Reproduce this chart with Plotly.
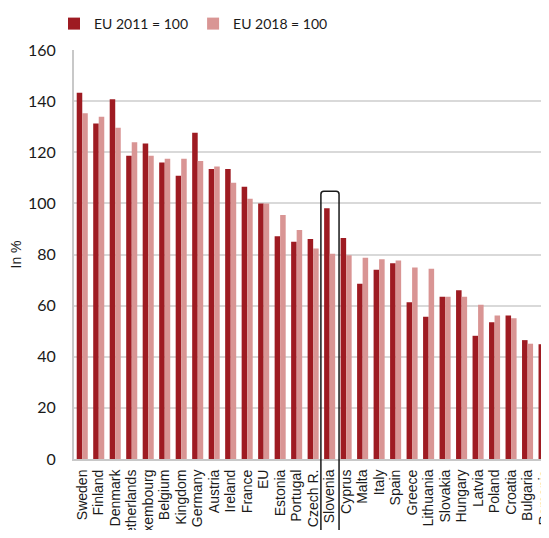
import plotly.graph_objects as go

# Price level index per country, two base years
countries = [
    "Sweden", "Finland", "Denmark", "Netherlands", "Luxembourg", "Belgium",
    "U. Kingdom", "Germany", "Austria", "Ireland", "France", "EU", "Estonia",
    "Portugal", "Czech R.", "Slovenia", "Cyprus", "Malta", "Italy", "Spain",
    "Greece", "Lithuania", "Slovakia", "Hungary", "Latvia", "Poland",
    "Croatia", "Bulgaria", "Romania",
]
eu_2011 = [
    143.3, 131.2, 140.7, 118.6, 123.4, 116.0, 110.8, 127.6, 113.4, 113.4,
    106.5, 100.0, 87.1, 85.0, 86.1, 98.1, 86.5, 68.6, 74.0, 76.6,
    61.3, 55.6, 63.5, 66.0, 48.2, 53.5, 56.1, 46.5, 44.9,
]
eu_2018 = [
    135.3, 133.9, 129.6, 123.9, 118.6, 117.5, 117.5, 116.6, 114.4, 108.1,
    101.8, 100.0, 95.5, 89.6, 82.3, 80.3, 79.7, 78.7, 78.1, 77.7,
    74.9, 74.4, 63.5, 63.5, 60.3, 56.1, 55.1, 45.1, 31.3,
]
y_ticks = [0, 20, 40, 60, 80, 100, 120, 140, 160]
highlight = "Slovenia"

DARK = "#9e1b22"
LIGHT = "#d99594"
GRID = "#d9d9d9"

# page body has an 8px margin, so the figure is a bit smaller than the window
W, H = 541, 522
M_L, M_R, M_T, M_B = 66, 0, 42, 71

fig = go.Figure()

fig.add_trace(go.Bar(
    x=countries, y=eu_2011, name="EU 2011 = 100",
    marker=dict(color=DARK, line=dict(width=0)),
))
fig.add_trace(go.Bar(
    x=countries, y=eu_2018, name="EU 2018 = 100",
    marker=dict(color=LIGHT, line=dict(width=0)),
))

# highlight box around one country (paper coords so it runs through labels)
x_min, x_max = -0.5, 28.3
plot_w = W - M_L - M_R
plot_h = H - M_T - M_B
idx = countries.index(highlight)
x0 = (idx - 0.53 + 0.5) / (x_max - x_min)
x1 = (idx + 0.57 + 0.5) / (x_max - x_min)
y_top = 104.7 / 160
y_bot = -0.4
rx = 3 / plot_w
ry = 3 / plot_h
path = (
    f"M{x0},{y_bot} L{x0},{y_top - ry} Q{x0},{y_top} {x0 + rx},{y_top} "
    f"L{x1 - rx},{y_top} Q{x1},{y_top} {x1},{y_top - ry} L{x1},{y_bot}"
)
fig.add_shape(
    type="path", path=path, xref="paper", yref="paper",
    line=dict(color="#1a1a1a", width=1.5), layer="above",
)

fig.update_layout(
    width=W,
    height=H,
    template="none",
    barmode="group",
    bargap=0.33,
    bargroupgap=0,
    plot_bgcolor="white",
    paper_bgcolor="white",
    margin=dict(l=M_L, r=M_R, t=M_T, b=M_B, autoexpand=False),
    font=dict(family="Lato", size=15, color="#1a1a1a"),
    showlegend=True,
    legend=dict(
        orientation="h",
        x=46 / W, xref="container", xanchor="left",
        y=1, yref="container", yanchor="top",
        font=dict(family="Lato", size=14, color="#1a1a1a"),
        bgcolor="rgba(0,0,0,0)",
    ),
    xaxis=dict(
        range=[x_min, x_max],
        tickmode="linear",
        dtick=1,
        tickangle=-90,
        tickfont=dict(family="Liberation Sans", size=14, color="#1a1a1a"),
        showgrid=False,
        showline=True,
        linecolor="#c8c8c8",
        linewidth=2,
        ticks="",
        ticklabelstandoff=3,
        automargin=False,
    ),
    yaxis=dict(
        range=[0, 160],
        tickvals=y_ticks,
        tickfont=dict(family="Lato", size=16, color="#1a1a1a"),
        showgrid=True,
        gridcolor=GRID,
        gridwidth=1.5,
        zeroline=False,
        showline=True,
        linecolor="#c8c8c8",
        linewidth=2,
        ticks="",
        ticklabelstandoff=13,
        automargin=False,
        title=dict(text="In %", font=dict(family="Liberation Sans", size=14),
                   standoff=8),
    ),
)

fig.write_html("out.html")
